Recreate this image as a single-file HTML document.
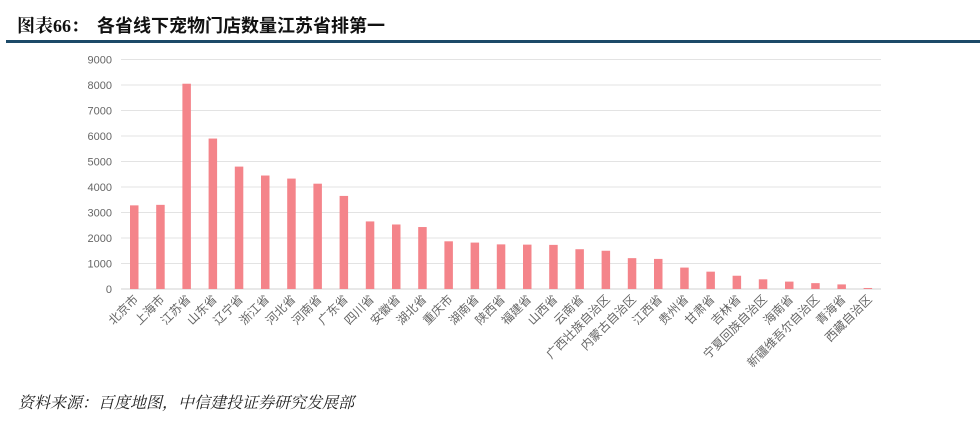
<!DOCTYPE html>
<html><head><meta charset="utf-8"><style>
body{margin:0;background:#fff;width:980px;height:416px;overflow:hidden;}
</style></head><body>
<svg width="980" height="416" xmlns="http://www.w3.org/2000/svg" font-family="Liberation Sans, Noto Sans CJK SC, sans-serif">
<text x="17" y="32" font-size="18" font-weight="bold" fill="#111" font-family="Liberation Serif, Noto Serif CJK SC, serif">图表66：</text>
<text x="97" y="32" font-size="18" font-weight="bold" fill="#111" font-family="Noto Sans CJK SC, sans-serif">各省线下宠物门店数量江苏省排第一</text>
<rect x="6" y="40" width="974" height="3" fill="#1d4a68"/>
<text x="18" y="408" font-size="16" font-style="italic" fill="#222" font-family="Noto Serif CJK SC, serif">资料来源：百度地图，中信建投证券研究发展部</text>
</svg>
<script>
const ns="http://www.w3.org/2000/svg";
const s=document.querySelector('svg');
const y0=289,k=25.5/1000;
function el(t,a,txt){const e=document.createElementNS(ns,t);for(const q in a)e.setAttribute(q,a[q]);if(txt)e.textContent=txt;s.appendChild(e);return e;}
for(let i=0;i<=9;i++){const y=y0-i*1000*k;
el('line',{x1:121,x2:881,y1:y,y2:y,stroke:i==0?'#d0d0d0':'#e3e3e3','stroke-width':1});
el('text',{x:112,y:y+4,'font-size':11,fill:'#666','text-anchor':'end'},String(i*1000));}
const n=["北京市","上海市","江苏省","山东省","辽宁省","浙江省","河北省","河南省","广东省","四川省","安徽省","湖北省","重庆市","湖南省","陕西省","福建省","山西省","云南省","广西壮族自治区","内蒙古自治区","江西省","贵州省","甘肃省","吉林省","宁夏回族自治区","海南省","新疆维吾尔自治区","青海省","西藏自治区"];
const v=[3280,3300,8050,5900,4800,4450,4330,4130,3650,2650,2530,2430,1870,1820,1750,1740,1730,1560,1500,1210,1180,840,680,520,380,290,230,180,40];
n.forEach((nm,i)=>{const cx=134+i*26.2;const h=v[i]*k;
el('rect',{x:cx-4,y:y0-h,width:8.5,height:h,fill:'#f4848a'});
el('text',{x:cx+5,y:300,'font-size':12,fill:'#666','text-anchor':'end',transform:`rotate(-45 ${cx+5} 300)`},nm);});
</script>
</body></html>
